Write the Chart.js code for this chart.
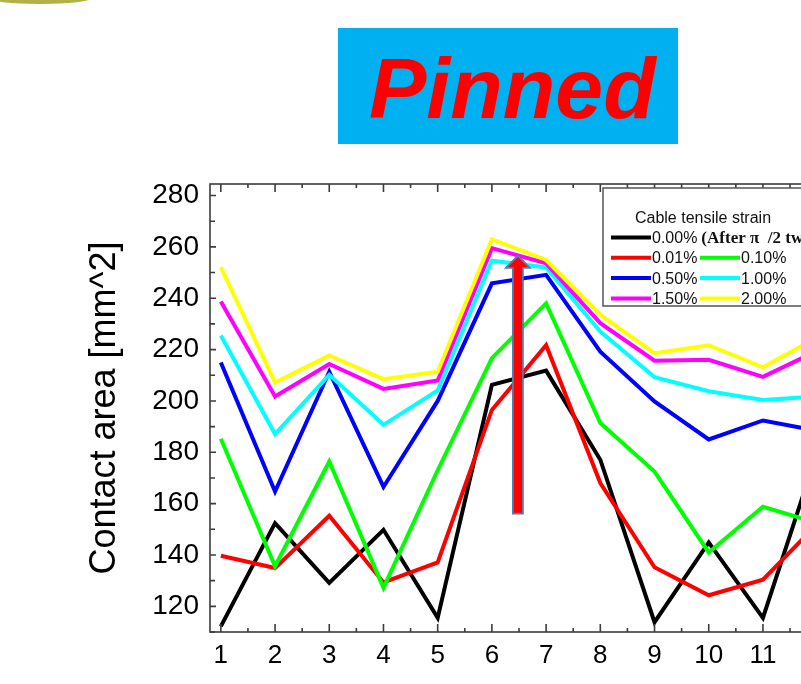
<!DOCTYPE html>
<html>
<head>
<meta charset="utf-8">
<script src="https://cdn.jsdelivr.net/npm/chart.js@4.4.1/dist/chart.umd.min.js"></script>
<style>
  html, body { margin: 0; padding: 0; background: #fff; overflow: hidden; }
  #wrap { position: absolute; left: 0; top: 0; width: 1000px; height: 684px; }
</style>
</head>
<body>
<div id="wrap"><canvas id="chart" width="1000" height="684"></canvas></div>
<script>
// sample positions along the cable
const xValues = [1, 2, 3, 4, 5, 6, 7, 8, 9, 10, 11, 12];
const yTicks = [120, 140, 160, 180, 200, 220, 240, 260, 280];

const strainLabels = ['0.00%', '0.01%', '0.10%', '0.50%', '1.00%', '1.50%', '2.00%'];
const firstNote = '(After \u03c0 /2 twist)';

// contact area [mm^2] per strain level
const strain000 = [112.2, 152.4, 129.1, 149.8, 115.5, 206.3, 211.8, 177.1, 113.8, 144.9, 115.5, 180.0];
const strain001 = [139.7, 134.9, 155.3, 129.3, 137.1, 196.5, 221.7, 168.0, 135.2, 124.3, 130.4, 152.0];
const strain010 = [185.3, 135.6, 176.4, 127.2, 173.0, 216.7, 238.0, 191.4, 172.5, 141.0, 158.8, 152.5];
const strain050 = [215.0, 164.7, 211.4, 166.5, 200.0, 245.8, 249.1, 219.2, 199.8, 185.0, 192.4, 188.4];
const strain100 = [225.5, 187.1, 210.2, 190.7, 204.1, 254.6, 252.0, 227.0, 209.3, 203.8, 200.4, 201.7];
const strain150 = [238.7, 201.7, 214.4, 204.7, 208.0, 259.5, 253.6, 230.3, 215.7, 216.0, 209.4, 219.5];
const strain200 = [252.1, 207.2, 217.7, 208.5, 211.4, 263.0, 254.9, 233.5, 218.6, 221.7, 213.1, 224.7];

const allSeries = [strain000, strain001, strain010, strain050, strain100, strain150, strain200];
const colors = ['#000000', '#ff0000', '#00ff00', '#0000ff', '#00ffff', '#ff00ff', '#ffff00'];

// arrow annotation (data units)
const arrowX = 6.48;
const arrowFrom = 156.1;
const arrowTo = 256.5;

const sans = '"Liberation Sans", Arial, sans-serif';

const datasets = allSeries.map((vals, i) => ({
    label: strainLabels[i],
    data: xValues.map((x, j) => ({ x: x, y: vals[j] })),
    borderColor: colors[i],
    backgroundColor: colors[i],
    borderWidth: 4,
    borderJoinStyle: 'miter',
    pointRadius: 0,
    tension: 0,
    order: allSeries.length - i
}));

const titlePlugin = {
    id: 'pinnedTitle',
    beforeDraw(chart) {
        const ctx = chart.ctx;
        ctx.save();
        // bit of the photo above, cut off
        ctx.fillStyle = '#b3b24a';
        ctx.beginPath();
        ctx.ellipse(40, -2, 52, 6, 0, 0, Math.PI * 2);
        ctx.fill();
        ctx.fillStyle = '#00b0f0';
        ctx.fillRect(338, 28, 340, 116);
        ctx.fillStyle = '#ff0000';
        ctx.font = 'italic bold 86px ' + sans;
        ctx.textBaseline = 'alphabetic';
        ctx.textAlign = 'left';
        ctx.fillText('Pinned', 369, 118);
        ctx.restore();
    }
};

const framePlugin = {
    id: 'frame',
    afterDatasetsDraw(chart) {
        const { ctx, chartArea: a, scales: { x, y } } = chart;
        ctx.save();
        ctx.strokeStyle = '#3c3c3c';
        ctx.lineWidth = 1.6;
        ctx.strokeRect(a.left, a.top, a.right - a.left, a.bottom - a.top);
        ctx.beginPath();
        xValues.forEach((v, i) => {
            const px = x.getPixelForValue(v);
            ctx.moveTo(px, a.bottom); ctx.lineTo(px, a.bottom - 8);
            ctx.moveTo(px, a.top); ctx.lineTo(px, a.top + 8);
            const mx = x.getPixelForValue(v + 0.5);
            ctx.moveTo(mx, a.bottom); ctx.lineTo(mx, a.bottom - 4);
            ctx.moveTo(mx, a.top); ctx.lineTo(mx, a.top + 4);
        });
        yTicks.forEach(v => {
            const py = y.getPixelForValue(v);
            ctx.moveTo(a.left, py); ctx.lineTo(a.left + 6, py);
            const my = y.getPixelForValue(v - 10);
            ctx.moveTo(a.left, my); ctx.lineTo(a.left + 5, my);
        });
        ctx.stroke();

        // arrow
        const ax = x.getPixelForValue(arrowX);
        const y0 = y.getPixelForValue(arrowFrom);
        const y1 = y.getPixelForValue(arrowTo);
        ctx.beginPath();
        ctx.moveTo(ax - 5, y0);
        ctx.lineTo(ax - 5, y1 + 12);
        ctx.lineTo(ax - 12, y1 + 12);
        ctx.lineTo(ax, y1);
        ctx.lineTo(ax + 12, y1 + 12);
        ctx.lineTo(ax + 5, y1 + 12);
        ctx.lineTo(ax + 5, y0);
        ctx.closePath();
        ctx.fillStyle = '#ff0000';
        ctx.fill();
        ctx.strokeStyle = '#4f7fb3';
        ctx.lineWidth = 1.8;
        ctx.stroke();
        ctx.restore();
    }
};

const legendPlugin = {
    id: 'strainLegend',
    afterDraw(chart) {
        const ctx = chart.ctx;
        const left = 603, top = 188;
        ctx.save();
        ctx.fillStyle = '#fff';
        ctx.fillRect(left, top, 260, 118);
        ctx.strokeStyle = '#555';
        ctx.lineWidth = 1.5;
        ctx.strokeRect(left, top, 260, 118);

        ctx.fillStyle = '#111';
        ctx.font = '16px ' + sans;
        ctx.textBaseline = 'middle';
        ctx.textAlign = 'center';
        ctx.fillText('Cable tensile strain', 703, top + 31);
        ctx.textAlign = 'left';

        const slots = [[0, 0], [1, 0], [1, 1], [2, 0], [2, 1], [3, 0], [3, 1]];
        chart.data.datasets.forEach((ds, i) => {
            const [row, col] = slots[i];
            const ly = top + 49.5 + row * 20.3;
            const lx = left + 8 + col * 89;
            ctx.strokeStyle = ds.borderColor;
            ctx.lineWidth = 4;
            ctx.beginPath();
            ctx.moveTo(lx, ly);
            ctx.lineTo(lx + 40, ly);
            ctx.stroke();
            ctx.fillStyle = '#111';
            ctx.font = '16px ' + sans;
            ctx.fillText(ds.label, lx + 41, ly + 1);
            if (i === 0) {
                const w = ctx.measureText(ds.label).width;
                ctx.font = 'bold 17px "Liberation Serif", "Times New Roman", serif';
                ctx.fillText(firstNote.replace('\u03c0 /', '\u03c0  /'), lx + 45 + w, ly + 1);
            }
        });
        ctx.restore();
    }
};

new Chart(document.getElementById('chart'), {
    type: 'line',
    data: { datasets: datasets },
    options: {
        responsive: false,
        animation: false,
        devicePixelRatio: 1,
        layout: { padding: { top: 184, right: 172, bottom: 0, left: 0 } },
        plugins: {
            legend: { display: false },
            tooltip: { enabled: false }
        },
        scales: {
            x: {
                type: 'linear',
                min: 0.8,
                max: 12.2,
                afterBuildTicks: s => { s.ticks = xValues.map(v => ({ value: v })); },
                afterFit: s => { s.height = 52; },
                grid: { display: false, drawTicks: false },
                border: { display: false },
                ticks: {
                    font: { size: 26, family: sans },
                    color: '#000',
                    padding: 8,
                    maxRotation: 0,
                    autoSkip: false
                }
            },
            y: {
                min: 110,
                max: 284.5,
                afterBuildTicks: s => { s.ticks = yTicks.map(v => ({ value: v })); },
                afterFit: s => { s.width = 210; },
                grid: { display: false, drawTicks: false },
                border: { display: false },
                ticks: {
                    font: { size: 28, family: sans },
                    color: '#000',
                    padding: 11
                },
                title: {
                    display: true,
                    text: 'Contact area [mm^2]',
                    color: '#000',
                    font: { size: 36, family: sans },
                    padding: { top: 83, bottom: 0 }
                }
            }
        }
    },
    plugins: [titlePlugin, framePlugin, legendPlugin]
});
</script>
</body>
</html>
